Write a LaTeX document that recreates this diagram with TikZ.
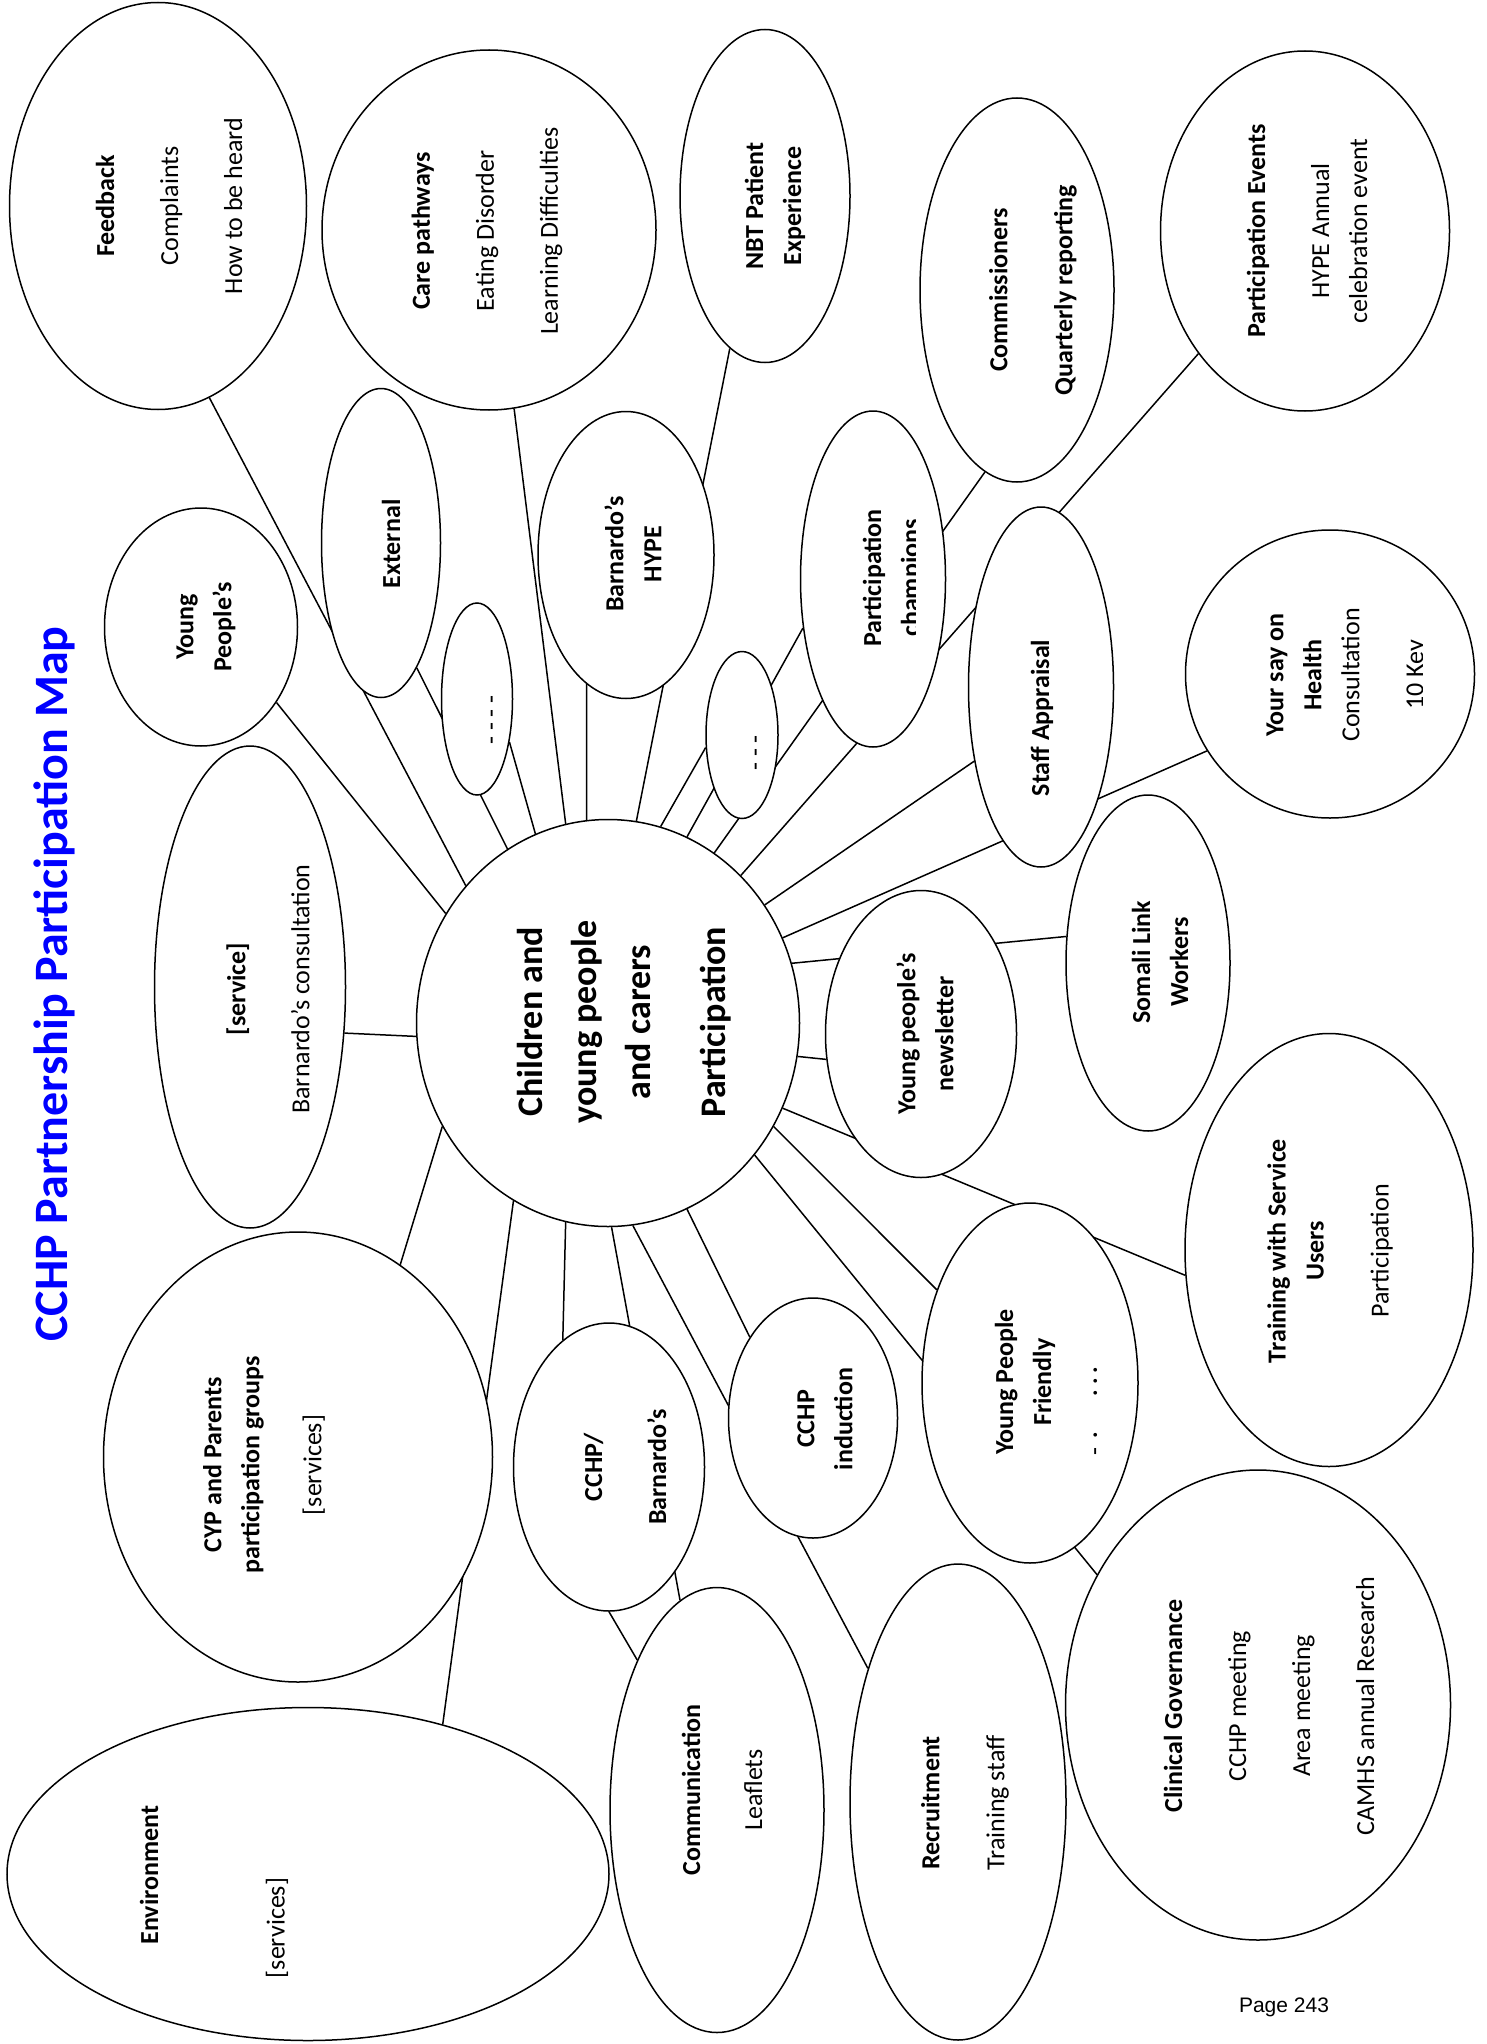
\documentclass[tikz,border=0pt]{standalone}
\usepackage{fontspec}
\setmainfont{Carlito}
\newfontfamily\arialfont{Liberation Sans}
\usetikzlibrary{shapes.geometric,backgrounds}
\definecolor{titleblue}{RGB}{0,0,255}
\begin{document}
\begin{tikzpicture}[x=1pt,y=-1pt]
\tikzset{
 bub/.style={draw, ellipse, fill=white, inner sep=0pt, line width=1.5pt},
 lbl/.style={rotate=90, align=center, inner sep=0pt, font=\fontsize{26}{38}\selectfont},
 conn/.style={line width=1.5pt},
}
\useasboundingbox (0,0) rectangle (1486,2044);
% bubbles
\node[bub, minimum width=383pt, minimum height=407pt] (c) at (608,1023) {};
\node[bub, minimum width=297pt, minimum height=407pt] (fb) at (158,206) {};
\node[bub, minimum width=334pt, minimum height=360pt] (care) at (489,230) {};
\node[bub, minimum width=193pt, minimum height=238pt] (yp) at (201,627) {};
\node[bub, minimum width=119pt, minimum height=309pt] (ext) at (381,543) {};
\node[bub, minimum width=71pt, minimum height=192pt] (d1) at (477,699) {};
\node[bub, minimum width=176pt, minimum height=287pt] (hype) at (626,555) {};
\node[bub, minimum width=170pt, minimum height=333pt] (nbt) at (765,196) {};
\node[bub, minimum width=72pt, minimum height=167pt] (d2) at (742,735) {};
\node[bub, minimum width=145pt, minimum height=336pt] (champ) at (873,579) {};
\node[bub, minimum width=194pt, minimum height=384pt] (comm) at (1017,290) {};
\node[bub, minimum width=289pt, minimum height=360pt] (pev) at (1305,231) {};
\node[bub, minimum width=145pt, minimum height=360pt] (staff) at (1041,687) {};
\node[bub, minimum width=289pt, minimum height=288pt] (ysay) at (1330,674) {};
\node[bub, minimum width=164pt, minimum height=336pt] (som) at (1148,963) {};
\node[bub, minimum width=191pt, minimum height=287pt] (news) at (921,1034) {};
\node[bub, minimum width=288pt, minimum height=433pt] (train) at (1329,1250) {};
\node[bub, minimum width=216pt, minimum height=360pt] (ypf) at (1030,1383) {};
\node[bub, minimum width=385pt, minimum height=470pt] (cg) at (1258,1705) {};
\node[bub, minimum width=216pt, minimum height=476pt] (recr) at (958,1802) {};
\node[bub, minimum width=169pt, minimum height=240pt] (ind) at (813,1418) {};
\node[bub, minimum width=191pt, minimum height=288pt] (cb) at (609,1467) {};
\node[bub, minimum width=214pt, minimum height=445pt] (comn) at (717,1810) {};
\node[bub, minimum width=602pt, minimum height=333pt] (env) at (308,1874) {};
\node[bub, minimum width=389pt, minimum height=450pt] (cyp) at (298,1457) {};
\node[bub, minimum width=191pt, minimum height=482pt] (svc) at (250,987) {};
% connectors behind bubbles
\begin{pgfonlayer}{background}
\fill[white] (0,0) rectangle (1486,2044);
\draw[conn] (fb.-75.4) -- (c.136.6);
\draw[conn] (yp.-45.8) -- (c.146.4);
\draw[conn] (ext.-74.5) -- (c.120.5);
\draw[conn] (d1.-53.1) -- (c.111.6);
\draw[conn] (care.-82.4) -- (c.102.8);
\draw[conn] (hype.-107.5) -- (c.96.5);
\draw[conn] (nbt.-103.9) -- (c.82.9);
\draw[conn] (d2.-161.6) -- (c.75.1);
\draw[conn] (champ.-145.9) -- (c.67.9);
\draw[conn] (comm.-100.2) -- (c.58.7);
\draw[conn] (pev.-131.5) -- (c.48.5);
\draw[conn] (staff.-132.1) -- (c.37.2);
\draw[conn] (ysay.-148.7) -- (c.26.4);
\draw[conn] (som.162.8) -- (c.18.8);
\draw[conn] (news.-165.8) -- (c.-10.3);
\draw[conn] (train.-170) -- (c.-26.2);
\draw[conn] (ypf.135) -- (c.-32.2);
\draw[conn] (cg.141.9) -- (c.-42.4);
\draw[conn] (recr.124.6) -- (c.-83);
\draw[conn] (ind.128.9) -- (c.-67.3);
\draw[conn] (comn.100.2) -- (c.-89.4);
\draw[conn] (cb.110.3) -- (c.-102.8);
\draw[conn] (cb.-90) -- (comn.118.9);
\draw[conn] (env.48.4) -- (c.-118.2);
\draw[conn] (cyp.62.2) -- (c.-148.8);
\draw[conn] (svc.-26.8) -- (c.-176.4);
\end{pgfonlayer}
% texts
\node[rotate=90, inner sep=0pt, text=titleblue, font=\bfseries\fontsize{48}{58}\selectfont] (title) at (54,984) {CCHP Partnership Participation Map};
\node[rotate=90, align=center, inner sep=0pt, font=\bfseries\fontsize{36}{54}\selectfont] (ctext) at (624,1022) {Children and\\young people\\and carers\\[21pt]Participation};
\node[lbl] (fbt) at (169,206) {\textbf{Feedback}\\[26pt]Complaints\\[26pt]How to be heard};
\node[lbl] (caret) at (487,231) {\textbf{Care pathways}\\[26pt]Eating Disorder\\[26pt]Learning Difficulties};
\node[lbl] (ypt) at (206,627) {\textbf{Young}\\\textbf{People’s}};
\node[lbl] (extt) at (391,544) {\textbf{External}};
\node[lbl] (d1t) at (495,720) {- - - -};
\node[lbl] (hypet) at (633,554) {\textbf{Barnardo’s}\\\textbf{HYPE}};
\node[lbl] (nbtt) at (775,206) {\textbf{NBT Patient}\\\textbf{Experience}};
\begin{scope}
\clip (780,380) rectangle (915,780);
\node[lbl] (champt) at (893,578) {\textbf{Participation}\\\textbf{champions}};
\end{scope}
\node[lbl] (d2t) at (759,753) {- - -};
\node[lbl] (commt) at (1033,290) {\textbf{Commissioners}\\[27pt]\textbf{Quarterly reporting}};
\node[lbl] (pevt) at (1307,231) {\textbf{Participation Events}\\[26pt]HYPE Annual\\celebration event};
\node[lbl] (stafft) at (1042,718) {\textbf{Staff Appraisal}};
\begin{scope}
\clip (1190,520) rectangle (1422,830);
\node[lbl] (ysayt) at (1347,675) {\textbf{Your say on}\\\textbf{Health}\\Consultation\\[26pt]10 Key};
\end{scope}
\node[lbl] (somt) at (1160,962) {\textbf{Somali Link}\\\textbf{Workers}};
\node[lbl] (newst) at (925,1034) {\textbf{Young people’s}\\\textbf{newsletter}};
\node[lbl] (traint) at (1330,1251) {\textbf{Training with Service}\\\textbf{Users}\\[27pt]Participation};
\node[lbl] (ypft) at (1025,1382) {\textbf{Young People}\\\textbf{Friendly}};
\node[lbl] (ypfd) at (1098,1411) {-\hspace{9pt}·\hspace{36pt}·\hspace{5pt}·\hspace{5pt}·};
\node[lbl] (cgt) at (1269,1706) {\textbf{Clinical Governance}\\[26pt]CCHP meeting\\[26pt]Area meeting\\[26pt]CAMHS annual Research};
\node[lbl] (recrt) at (965,1803) {\textbf{Recruitment}\\[27pt]Training staff};
\node[lbl] (indt) at (825,1419) {\textbf{CCHP}\\\textbf{induction}};
\node[lbl] (cbt) at (625,1467) {\textbf{CCHP/}\\[26pt]\textbf{Barnardo’s}};
\node[lbl] (comnt) at (722,1790) {\textbf{Communication}\\[24pt]Leaflets};
\node[lbl] (envt1) at (149,1875) {\textbf{Environment}};
\node[lbl] (envt2) at (277,1928) {[services]};
\node[lbl] (cypt) at (264,1465) {\textbf{CYP and Parents}\\\textbf{participation groups}\\[24pt]{[services]}};
\node[lbl] (svct) at (268,989) {\textbf{[service]}\\[26pt]Barnardo’s consultation};
\node[inner sep=0pt, font=\arialfont\fontsize{21}{25}\selectfont] (page) at (1284,2007) {Page 243};
\end{tikzpicture}
\end{document}
